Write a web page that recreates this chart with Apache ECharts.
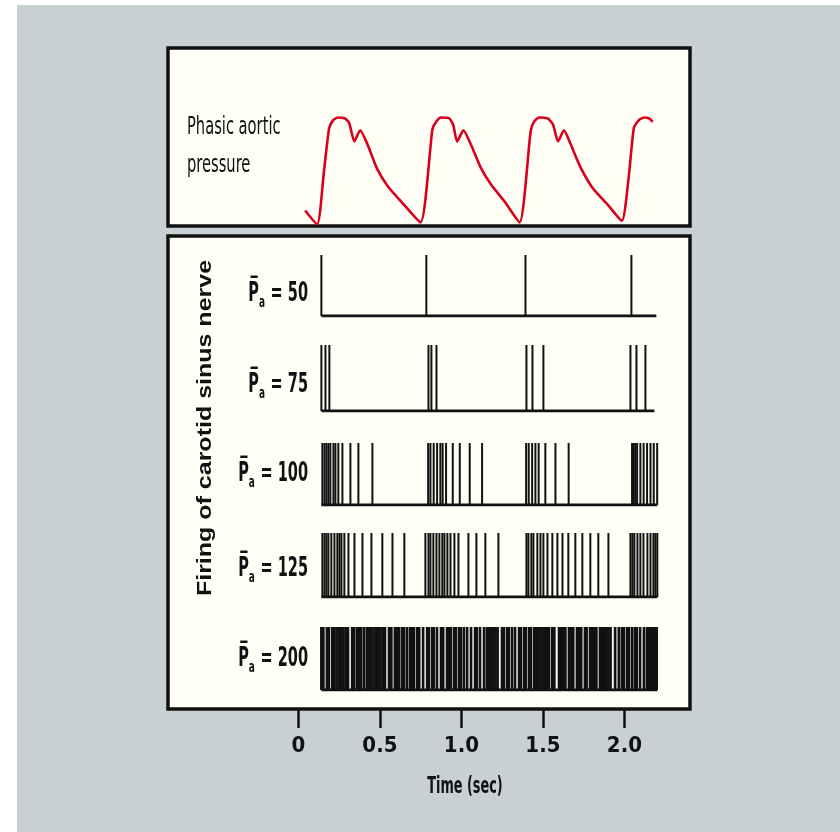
<!DOCTYPE html>
<html><head><meta charset="utf-8">
<script src="https://cdn.jsdelivr.net/npm/echarts@6/dist/echarts.min.js"></script>
<style>html,body{margin:0;padding:0;background:#fff}#c{width:840px;height:832px}</style>
</head><body><div id="c"></div>
<script>
// ---------------- DATA ----------------
// Phasic aortic pressure (time in s, pressure in mmHg)
const pressureTime = [0.041,0.115,0.157,0.188,0.210,0.241,0.283,0.311,0.343,0.379,0.421,0.484,0.548,0.632,0.749,
  0.822,0.844,0.875,0.924,0.949,0.974,1.012,1.055,1.118,1.182,1.266,1.357,
  1.425,1.445,1.477,1.530,1.562,1.593,1.629,1.668,1.731,1.805,1.900,1.984,
  2.026,2.058,2.090,2.122,2.153,2.174];
const pressureValue = [84.8,79.5,99.9,116.1,119.1,120.4,120.1,118.4,111.2,115.5,110.5,100.6,94.1,88.1,80.2,
  115.8,118.7,120.4,120.1,117.7,111.2,115.5,110.5,101.3,94.7,88.1,80.2,
  115.1,118.7,120.4,120.0,117.7,111.2,115.5,110.5,101.3,93.4,86.8,80.8,
  97.3,116.4,119.5,120.4,120.0,118.7];

// Spike times (s) of carotid sinus nerve firing at each mean pressure
const spikes50 = [0.141,0.785,1.393,2.043];
const spikes75 = [0.141,0.166,0.190,0.798,0.816,0.847,1.399,1.436,1.503,2.037,2.074,2.129];
const spikes100 = [0.147,0.160,0.172,0.184,0.196,0.215,0.227,0.245,0.270,0.319,0.368,0.454,
  0.796,0.810,0.830,0.851,0.871,0.885,0.906,0.947,0.990,1.051,1.127,
  1.397,1.413,1.434,1.454,1.474,1.515,1.577,1.658,
  2.047,2.057,2.067,2.078,2.098,2.118,2.139,2.160,2.180,2.201];
const spikes125 = [0.147,0.160,0.172,0.184,0.202,0.221,0.239,0.252,0.264,0.282,0.307,0.344,0.393,0.448,0.515,0.577,0.650,
  0.779,0.798,0.810,0.828,0.847,0.865,0.883,0.896,0.914,0.933,0.957,0.982,1.043,1.092,1.147,1.227,
  1.399,1.411,1.429,1.442,1.466,1.485,1.503,1.528,1.558,1.589,1.620,1.656,1.699,1.742,1.791,1.840,1.902,
  2.037,2.049,2.061,2.080,2.098,2.117,2.141,2.160,2.178,2.190,2.202];
const spikes200 = [0.141,0.153,0.175,0.186,0.207,0.220,0.234,0.248,0.262,0.276,0.290,0.304,0.330,0.342,0.360,0.374,0.384,
  0.402,0.420,0.433,0.447,0.461,0.475,0.489,0.503,0.517,0.531,0.556,0.570,0.592,0.604,0.616,0.635,0.646,0.665,0.684,
  0.696,0.708,0.728,0.741,0.765,0.790,0.800,0.820,0.830,0.850,0.875,0.888,0.912,0.924,0.935,0.955,0.965,0.985,0.996,
  1.015,1.035,1.059,1.084,1.094,1.114,1.139,1.157,1.170,1.183,1.196,1.209,1.222,1.249,1.260,1.280,1.290,1.310,1.329,
  1.354,1.364,1.384,1.395,1.415,1.426,1.446,1.459,1.472,1.485,1.498,1.511,1.524,1.536,1.556,1.570,1.599,1.612,1.625,
  1.638,1.660,1.673,1.686,1.709,1.722,1.735,1.758,1.768,1.789,1.802,1.815,1.828,1.850,1.863,1.876,1.889,1.902,1.915,
  1.943,1.966,1.985,1.996,2.016,2.026,2.046,2.064,2.075,2.096,2.120,2.139,2.150,2.162,2.174,2.186,2.198];

const rowValues = ['50','75','100','125','200'];
const rowSpikes = [spikes50, spikes75, spikes100, spikes125, spikes200];
const rowStart = [0.141,0.141,0.141,0.141,0.141];
const rowEnd = [2.196,2.184,2.202,2.202,2.202];

const timeTicks = [0, 0.5, 1.0, 1.5, 2.0];
const timeTickLabels = ['0', '0.5', '1.0', '1.5', '2.0'];

// ---------------- LAYOUT ----------------
const FONT_N = "'Liberation Sans Narrow', 'DejaVu Sans Condensed', 'Liberation Sans', sans-serif";
const FONT_B = "'Liberation Sans', 'DejaVu Sans', sans-serif";
const X_MIN = -0.8, X_MAX = 2.4;
const GRID_LEFT = 168, GRID_W = 521.6;
const rowTop = [255, 345, 443, 533, 627];
const rowBottom = [316, 411, 505, 597, 690];
const labelY = [296, 387, 476, 571, 661];
const rowBarWidth = [2, 2, 2, 2, 2.7];
const INK = '#111';

const grids = [];
const xAxes = [];
const yAxes = [];
const series = [];

// pressure grid (index 0)
grids.push({left: GRID_LEFT, width: GRID_W, top: 105.44, height: 130.6});
xAxes.push({type: 'value', gridIndex: 0, min: X_MIN, max: X_MAX, show: false});
yAxes.push({type: 'value', gridIndex: 0, min: 75, max: 125, show: false});
series.push({
  type: 'line', xAxisIndex: 0, yAxisIndex: 0, symbol: 'none', smooth: 0.2,
  data: pressureTime.map((t, i) => [t, pressureValue[i]]),
  lineStyle: {color: '#d9001b', width: 2.6}, z: 5
});

// spike rows
rowSpikes.forEach((sp, r) => {
  const gi = grids.length;
  grids.push({left: GRID_LEFT, width: GRID_W, top: rowTop[r], height: rowBottom[r] - rowTop[r]});
  xAxes.push({type: 'value', gridIndex: gi, min: X_MIN, max: X_MAX, show: false});
  yAxes.push({type: 'value', gridIndex: gi, min: 0, max: 1, show: false});
  series.push({
    type: 'bar', xAxisIndex: gi, yAxisIndex: gi, barWidth: rowBarWidth[r],
    data: sp.map(t => [t, 1]),
    itemStyle: {color: INK}, z: 4
  });
  series.push({
    type: 'line', xAxisIndex: gi, yAxisIndex: gi, symbol: 'none',
    data: [[rowStart[r], 0], [rowEnd[r], 0]],
    lineStyle: {color: INK, width: 3}, z: 4
  });
});

// time axis (ticks below the lower panel)
const tg = grids.length;
grids.push({left: GRID_LEFT, width: GRID_W, top: 690, height: 20});
xAxes.push({
  type: 'value', gridIndex: tg, min: X_MIN, max: X_MAX, position: 'bottom',
  axisLine: {show: false}, splitLine: {show: false},
  axisTick: {show: true, customValues: timeTicks, length: 18, lineStyle: {color: INK, width: 2.5}},
  axisLabel: {show: true, customValues: timeTicks, margin: 25,
    formatter: v => timeTickLabels[timeTicks.indexOf(v)] ?? '',
    color: INK, fontFamily: FONT_N, fontSize: 22, fontWeight: 'bold'}
});
yAxes.push({type: 'value', gridIndex: tg, show: false});

const rowLabelGraphics = rowValues.map((v, r) => ({
  type: 'text', x: 308, y: labelY[r], z: 10, scaleX: 0.62,
  style: {
    text: '{p|P\u0305}{s|a}{n| = ' + v + '}',
    align: 'right', verticalAlign: 'middle',
    rich: {
      p: {fontFamily: FONT_N, fontSize: 26, fontWeight: 'bold', fill: INK, lineHeight: 30, verticalAlign: 'top'},
      s: {fontFamily: FONT_N, fontSize: 16, fontWeight: 'bold', fill: INK, lineHeight: 30, padding: [14, 1, 0, 0], verticalAlign: 'top'},
      n: {fontFamily: FONT_N, fontSize: 26, fontWeight: 'bold', fill: INK, lineHeight: 30, verticalAlign: 'top'}
    }
  }
}));

const option = {
  backgroundColor: '#ffffff',
  animation: false,
  grid: grids, xAxis: xAxes, yAxis: yAxes, series: series,
  graphic: [
    {type: 'rect', shape: {x: 17, y: 5, width: 823, height: 827}, style: {fill: '#c9d0d4'}, z: -10},
    {type: 'rect', shape: {x: 168, y: 48, width: 522, height: 178}, style: {fill: '#fffff6', stroke: INK, lineWidth: 3.5}, z: -5},
    {type: 'rect', shape: {x: 168, y: 236, width: 522, height: 473}, style: {fill: '#fffff6', stroke: INK, lineWidth: 3.5}, z: -5},
    {type: 'text', x: 187, y: 109, z: 10, scaleX: 0.68, style: {text: 'Phasic aortic\npressure', fill: INK,
      font: '24px ' + FONT_N, lineHeight: 38, align: 'left', verticalAlign: 'top'}},
    {type: 'text', x: 205, y: 428, rotation: Math.PI / 2, scaleX: 1.25, z: 10, style: {text: 'Firing of carotid sinus nerve', fill: INK,
      font: 'bold 20px ' + FONT_B, align: 'center', verticalAlign: 'middle'}},
    {type: 'text', x: 465, y: 787, z: 10, scaleX: 0.62, style: {text: 'Time (sec)', fill: INK,
      font: 'bold 23px ' + FONT_N, align: 'center', verticalAlign: 'middle'}}
  ].concat(rowLabelGraphics)
};

const chart = echarts.init(document.getElementById('c'), null, {renderer: 'canvas'});
chart.setOption(option);
</script></body></html>
